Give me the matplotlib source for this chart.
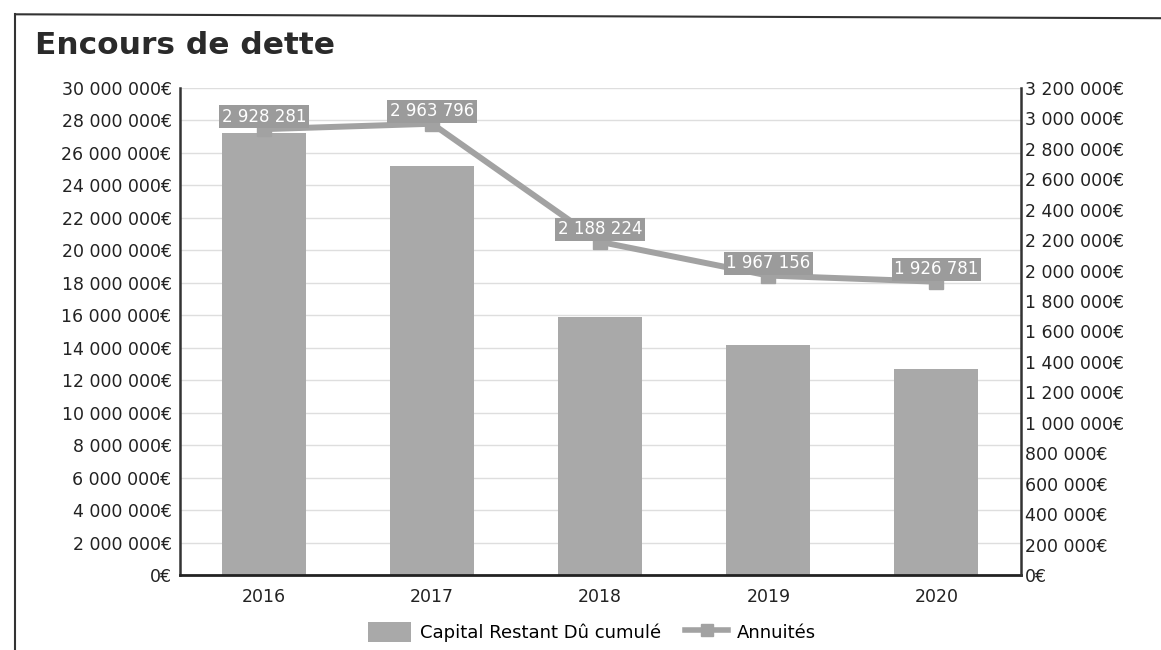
import matplotlib.pyplot as plt
from matplotlib.patches import Patch
from matplotlib.lines import Line2D
from matplotlib.ticker import FuncFormatter, MultipleLocator
import numpy as np

# Encours de dette : capital restant dû et annuités par exercice
years = ['2016', '2017', '2018', '2019', '2020']
capital = [27_200_000, 25_200_000, 15_900_000, 14_200_000, 12_700_000]
annuites = [2_928_281, 2_963_796, 2_188_224, 1_967_156, 1_926_781]

bar_color = '#a9a9a9'
line_color = '#a2a2a2'
label_bg = '#9b9b9b'
plt.rcParams['font.family'] = 'DejaVu Sans'


def euros(v, pos=None):
    return f"{int(round(v)):,}".replace(',', ' ') + '€'


fig = plt.figure(figsize=(11.61, 6.5), dpi=100)
ax = fig.add_axes([0.155, 0.115, 0.724, 0.75])
x = np.arange(len(years))

ax.bar(x, capital, width=0.5, color=bar_color, zorder=2)
ax.set_xlim(-0.5, len(years) - 0.5)
ax.set_ylim(0, 30_000_000)
ax.yaxis.set_major_locator(MultipleLocator(2_000_000))
ax.yaxis.set_major_formatter(FuncFormatter(euros))
ax.grid(axis='y', color='#dedede', linewidth=1, zorder=0)
ax.set_xticks(x)
ax.set_xticklabels(years)
ax.tick_params(axis='y', length=0, pad=6, labelsize=12.5, labelcolor='#222222')
ax.tick_params(axis='x', length=0, pad=9, labelsize=12.5, labelcolor='#222222')
ax.spines['top'].set_visible(False)
ax.spines['right'].set_visible(False)
ax.spines['left'].set_color('#333333')
ax.spines['left'].set_linewidth(1.8)
ax.spines['bottom'].set_color('#222222')
ax.spines['bottom'].set_linewidth(2)

ax2 = ax.twinx()
ax2.set_ylim(0, 3_200_000)
ax2.yaxis.set_major_locator(MultipleLocator(200_000))
ax2.yaxis.set_major_formatter(FuncFormatter(euros))
ax2.tick_params(axis='y', length=0, pad=3, labelsize=12.5, labelcolor='#222222')
for side in ['top', 'left', 'bottom']:
    ax2.spines[side].set_visible(False)
ax2.spines['right'].set_color('#333333')
ax2.spines['right'].set_linewidth(1.8)

ax2.plot(x, annuites, color=line_color, linewidth=4.3, marker='s', markersize=10,
         markerfacecolor=line_color, markeredgecolor=line_color, zorder=3,
         solid_capstyle='butt')
for xi, v in zip(x, annuites):
    ax2.annotate(f"{v:,}".replace(',', ' '), (xi, v), xytext=(0, 9),
                 textcoords='offset points', ha='center', va='center',
                 fontsize=12, color='white', zorder=4,
                 bbox=dict(boxstyle='square,pad=0.15', facecolor=label_bg,
                           edgecolor='none'))

fig.text(0.03, 0.93, 'Encours de dette', fontsize=22.5, fontweight='bold',
         color='#2a2a2a', ha='left', va='center')

# cadre autour du graphique
fig.add_artist(Line2D([0.013, 0.013], [0.0, 0.978], transform=fig.transFigure,
                      color='#333333', linewidth=1.5))
fig.add_artist(Line2D([0.013, 1.0], [0.978, 0.972], transform=fig.transFigure,
                      color='#333333', linewidth=1.5))

handles = [Patch(facecolor=bar_color, edgecolor='none'),
           Line2D([], [], color=line_color, linewidth=4, marker='s',
                  markersize=9, markerfacecolor=line_color)]
fig.legend(handles, ['Capital Restant Dû cumulé', 'Annuités'],
           loc='center', bbox_to_anchor=(0.51, 0.028), ncol=2, frameon=False,
           fontsize=13, handlelength=2.4, handleheight=1.3, columnspacing=1.3,
           handletextpad=0.5)

fig.savefig('out.png', dpi=100)
